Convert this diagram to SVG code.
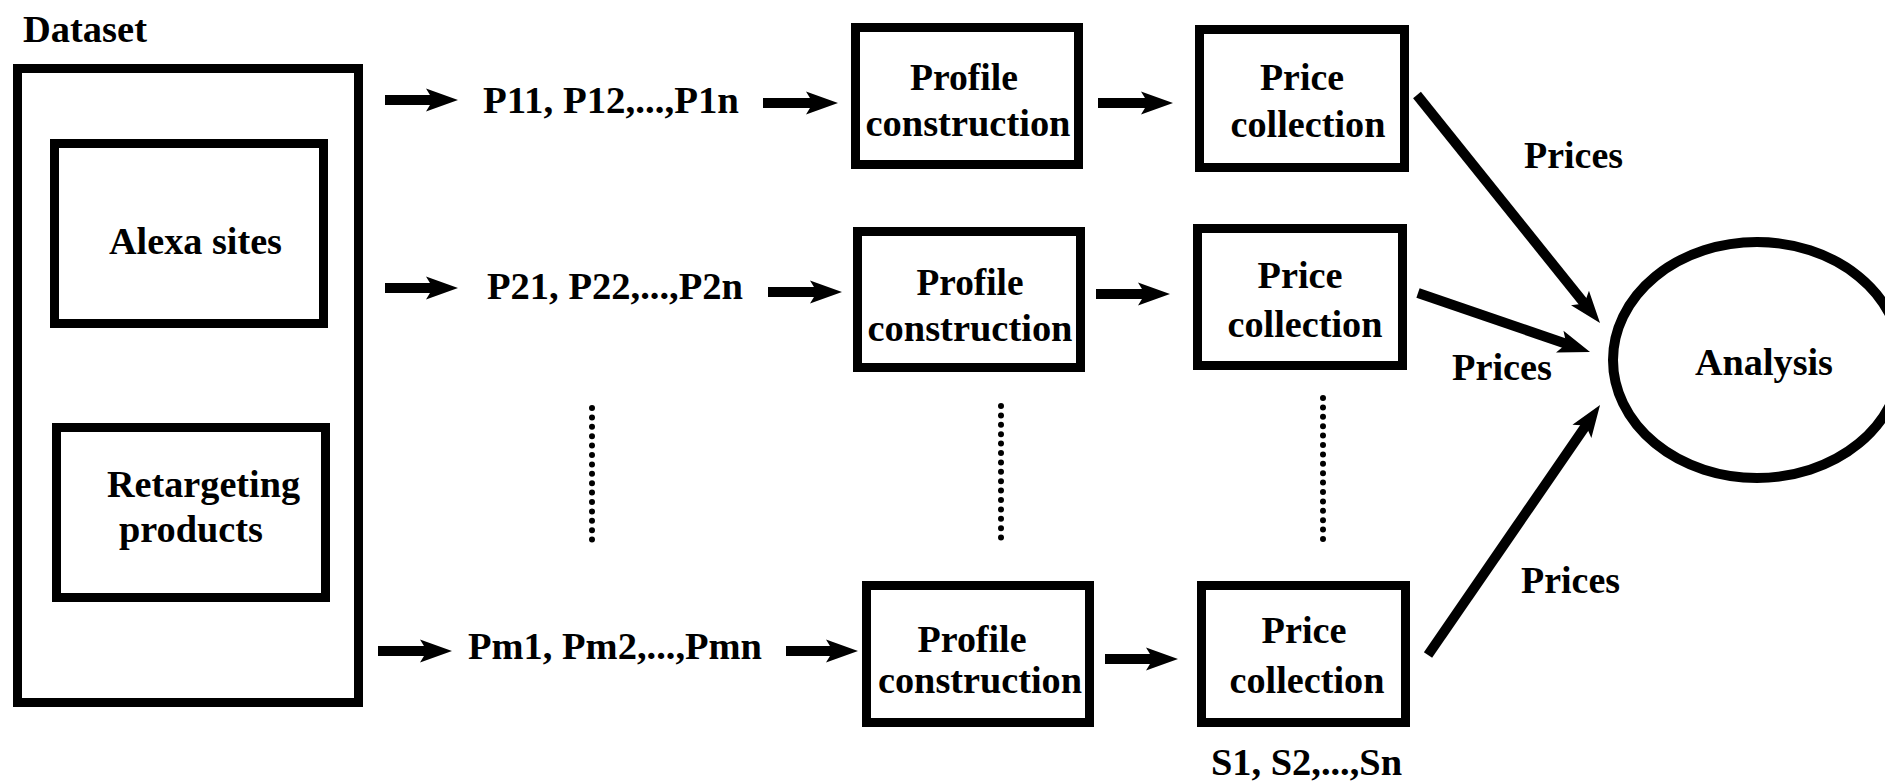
<svg xmlns="http://www.w3.org/2000/svg" width="1885" height="781" viewBox="0 0 1885 781">
  <style>
    .box { fill: none; stroke: #000; stroke-width: 9; }
    .lbl { font-family: 'Liberation Serif', 'Times New Roman', serif; font-weight: 700; font-size: 38px; fill: #000; }
    .mid { text-anchor: middle; }
    .arrow { stroke: #000; stroke-width: 10; fill: none; marker-end: url(#head); }
    .dots { stroke: #000; stroke-width: 6; stroke-linecap: round; stroke-dasharray: 0 9.4; fill: none; }
  </style>
  <defs>
    <marker id="head" markerUnits="userSpaceOnUse" markerWidth="34" markerHeight="26" viewBox="0 -13 34 26" refX="12" refY="0" orient="auto" overflow="visible">
      <path d="M32,0 L0,-11.5 L7,0 L0,11.5 Z" fill="#000"/>
    </marker>
  </defs>
  <rect width="1885" height="781" fill="#fff"/>

  <!-- Dataset container -->
  <g id="dataset">
    <text class="lbl" x="23" y="42" textLength="124" lengthAdjust="spacingAndGlyphs">Dataset</text>
    <rect class="box" x="17.5" y="68.5" width="341" height="634"/>
  </g>
  <g id="alexa-sites">
    <rect class="box" x="54.5" y="143.5" width="269" height="180"/>
    <text class="lbl" x="109" y="254" textLength="173" lengthAdjust="spacingAndGlyphs">Alexa sites</text>
  </g>
  <g id="retargeting-products">
    <rect class="box" x="56.5" y="427.5" width="269" height="170"/>
    <text class="lbl" x="107" y="497" textLength="193" lengthAdjust="spacingAndGlyphs">Retargeting</text>
    <text class="lbl" x="119" y="542" textLength="144" lengthAdjust="spacingAndGlyphs">products</text>
  </g>

  <!-- Profile sets -->
  <g id="profiles-1">
    <text class="lbl" x="483" y="113" textLength="256" lengthAdjust="spacingAndGlyphs">P11, P12,...,P1n</text>
  </g>
  <g id="profiles-2">
    <text class="lbl" x="487" y="299" textLength="256" lengthAdjust="spacingAndGlyphs">P21, P22,...,P2n</text>
  </g>
  <g id="profiles-m">
    <text class="lbl" x="468" y="659" textLength="294" lengthAdjust="spacingAndGlyphs">Pm1, Pm2,...,Pmn</text>
  </g>

  <!-- Profile construction -->
  <g id="profile-construction-1">
    <rect class="box" x="855.5" y="27.5" width="223" height="137"/>
    <text class="lbl mid" x="964" y="90" textLength="108" lengthAdjust="spacingAndGlyphs">Profile</text>
    <text class="lbl mid" x="968" y="136" textLength="205" lengthAdjust="spacingAndGlyphs">construction</text>
  </g>
  <g id="profile-construction-2">
    <rect class="box" x="857.5" y="231.5" width="223" height="136"/>
    <text class="lbl mid" x="970" y="295" textLength="107" lengthAdjust="spacingAndGlyphs">Profile</text>
    <text class="lbl mid" x="970" y="341" textLength="205" lengthAdjust="spacingAndGlyphs">construction</text>
  </g>
  <g id="profile-construction-m">
    <rect class="box" x="866.5" y="585.5" width="223" height="137"/>
    <text class="lbl mid" x="972" y="652" textLength="109" lengthAdjust="spacingAndGlyphs">Profile</text>
    <text class="lbl mid" x="980" y="693" textLength="204" lengthAdjust="spacingAndGlyphs">construction</text>
  </g>

  <!-- Price collection -->
  <g id="price-collection-1">
    <rect class="box" x="1199.5" y="29.5" width="205" height="138"/>
    <text class="lbl mid" x="1302" y="90" textLength="84" lengthAdjust="spacingAndGlyphs">Price</text>
    <text class="lbl mid" x="1308" y="137" textLength="155" lengthAdjust="spacingAndGlyphs">collection</text>
  </g>
  <g id="price-collection-2">
    <rect class="box" x="1197.5" y="228.5" width="205" height="137"/>
    <text class="lbl mid" x="1300" y="288" textLength="85" lengthAdjust="spacingAndGlyphs">Price</text>
    <text class="lbl mid" x="1305" y="337" textLength="155" lengthAdjust="spacingAndGlyphs">collection</text>
  </g>
  <g id="price-collection-m">
    <rect class="box" x="1201.5" y="585.5" width="204" height="137"/>
    <text class="lbl mid" x="1304" y="643" textLength="85" lengthAdjust="spacingAndGlyphs">Price</text>
    <text class="lbl mid" x="1307" y="693" textLength="155" lengthAdjust="spacingAndGlyphs">collection</text>
    <text class="lbl" x="1211" y="775" textLength="191" lengthAdjust="spacingAndGlyphs">S1, S2,...,Sn</text>
  </g>

  <!-- Analysis -->
  <g id="analysis">
    <ellipse cx="1757" cy="360" rx="144" ry="118" fill="none" stroke="#000" stroke-width="10"/>
    <text class="lbl" x="1695" y="375" textLength="138" lengthAdjust="spacingAndGlyphs">Analysis</text>
  </g>

  <!-- Connectors -->
  <g id="connectors">
    <line class="arrow" x1="385" y1="100" x2="438" y2="100"/>
    <line class="arrow" x1="763" y1="103" x2="818" y2="103"/>
    <line class="arrow" x1="1098" y1="103" x2="1153" y2="103"/>

    <line class="arrow" x1="385" y1="288" x2="438" y2="288"/>
    <line class="arrow" x1="768" y1="292" x2="822" y2="292"/>
    <line class="arrow" x1="1096" y1="294" x2="1150" y2="294"/>

    <line class="arrow" x1="378" y1="651" x2="432" y2="651"/>
    <line class="arrow" x1="786" y1="651" x2="838" y2="651"/>
    <line class="arrow" x1="1105" y1="659" x2="1158" y2="659"/>

    <line class="arrow" x1="1417" y1="95" x2="1587.5" y2="307.4"/>
    <line class="arrow" x1="1418" y1="293" x2="1571.1" y2="345.5"/>
    <line class="arrow" x1="1428" y1="655" x2="1588.7" y2="421.5"/>

    <line class="dots" x1="592" y1="408" x2="592" y2="549"/>
    <line class="dots" x1="1001" y1="406" x2="1001" y2="547"/>
    <line class="dots" x1="1323" y1="398" x2="1323" y2="539"/>
  </g>

  <!-- Connector labels -->
  <g id="connector-labels">
    <text class="lbl" x="1524" y="168" textLength="99" lengthAdjust="spacingAndGlyphs">Prices</text>
    <text class="lbl" x="1452" y="380" textLength="100" lengthAdjust="spacingAndGlyphs">Prices</text>
    <text class="lbl" x="1521" y="593" textLength="99" lengthAdjust="spacingAndGlyphs">Prices</text>
  </g>
</svg>
